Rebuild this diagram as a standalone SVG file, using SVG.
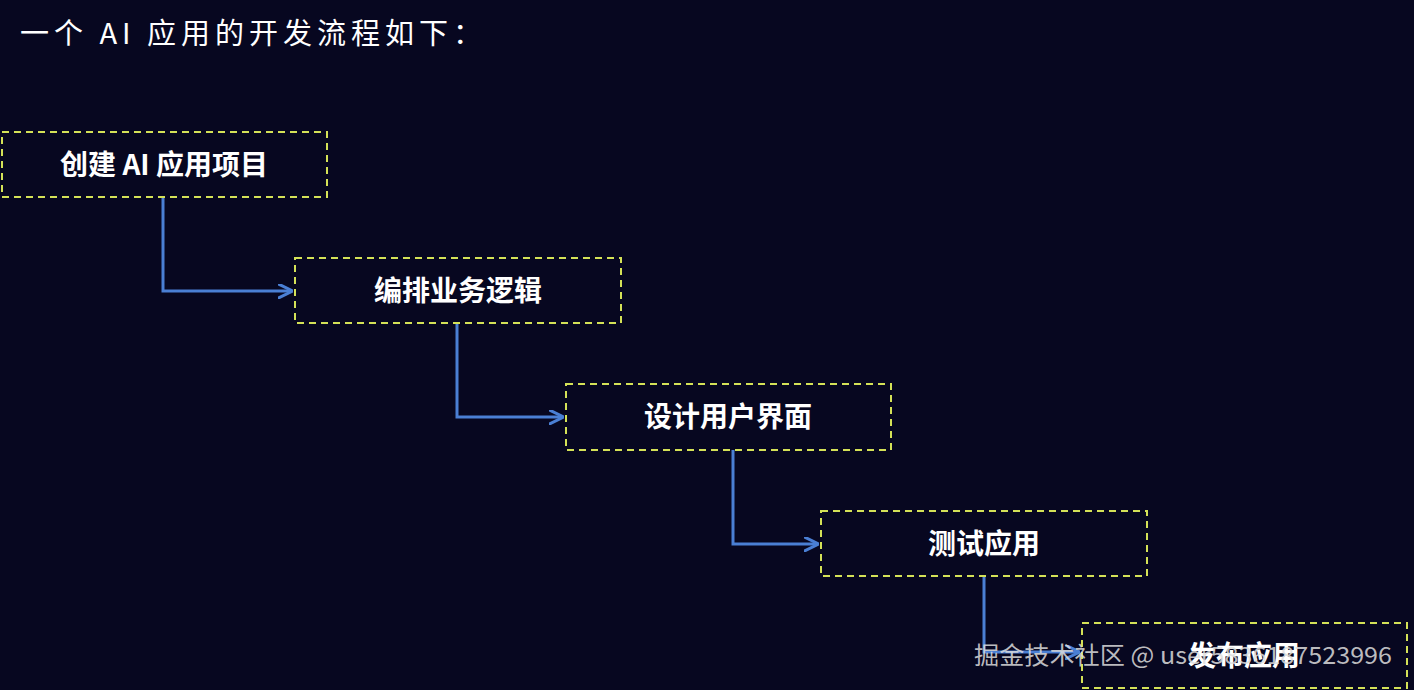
<svg xmlns="http://www.w3.org/2000/svg" width="1414" height="690" viewBox="0 0 1414 690">
<defs>
<style>
.box{fill:none;stroke:#d4e157;stroke-width:2;stroke-dasharray:7 5}
.lbl{fill:#fff;font-family:"Noto Sans CJK SC","Liberation Sans",sans-serif;font-size:28px;font-weight:bold;text-anchor:middle}
.con{fill:none;stroke:#4a7fd4;stroke-width:3}
</style>
<marker id="ah" viewBox="0 0 10 10" refX="9" refY="5" markerWidth="5" markerHeight="5" orient="auto" markerUnits="strokeWidth">
<path d="M0,0 L10,5 L0,10" fill="none" stroke="#4a7fd4" stroke-width="2"/>
</marker>
</defs>
<rect width="1414" height="690" fill="#070720"/>
<text x="20" y="44" fill="#fff" font-family="'Noto Sans CJK SC','Liberation Mono',monospace" font-size="29" textLength="462" lengthAdjust="spacing">一个 AI 应用的开发流程如下：</text>
<g id="connectors">
<path class="con" d="M163,197 V291 H291" marker-end="url(#ah)"/>
<path class="con" d="M457,323 V417 H562" marker-end="url(#ah)"/>
<path class="con" d="M733,450 V544 H817" marker-end="url(#ah)"/>
<path class="con" d="M984,576 V652 H1078" marker-end="url(#ah)"/>
</g>
<g id="n1"><rect class="box" x="2" y="132" width="325" height="65"/><text class="lbl" x="164" y="175">创建 AI 应用项目</text></g>
<g id="n2"><rect class="box" x="295" y="258" width="326" height="65"/><text class="lbl" x="458" y="301">编排业务逻辑</text></g>
<g id="n3"><rect class="box" x="566" y="384" width="325" height="66"/><text class="lbl" x="728" y="427">设计用户界面</text></g>
<g id="n4"><rect class="box" x="821" y="511" width="326" height="65"/><text class="lbl" x="984" y="554">测试应用</text></g>
<g id="n5"><rect class="box" x="1082" y="623" width="325" height="65"/><text class="lbl" x="1244" y="666">发布应用</text></g>
<text x="974" y="664" fill="#ddd" fill-opacity="0.85" font-family="'Noto Sans CJK SC','Liberation Sans',sans-serif" font-size="24" textLength="418" lengthAdjust="spacingAndGlyphs">掘金技术社区 @ user5836187523996</text>
</svg>
